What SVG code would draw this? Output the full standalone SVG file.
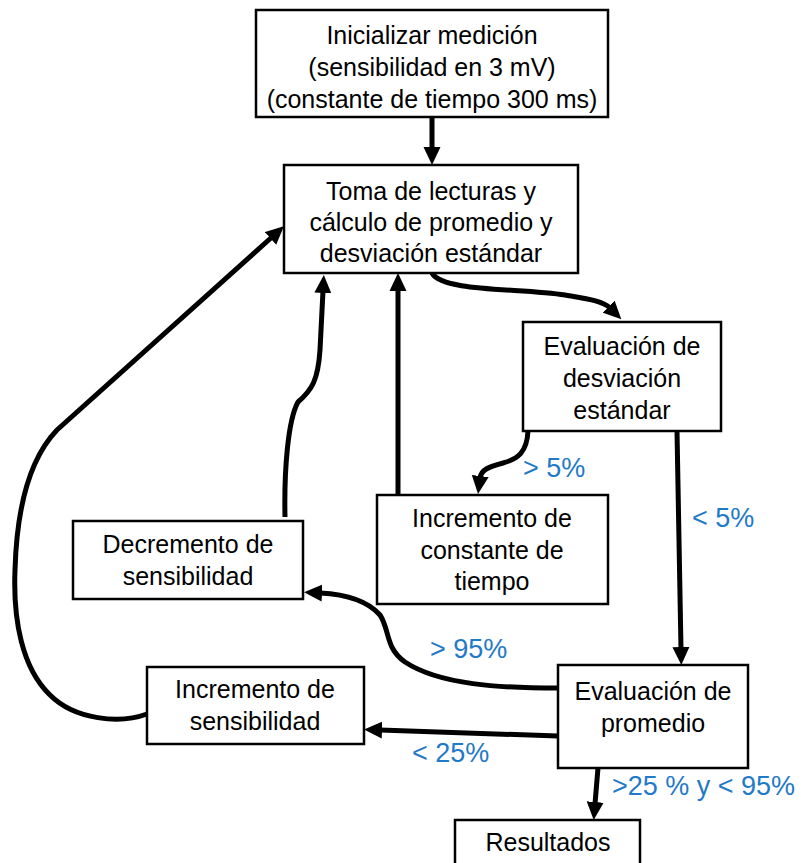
<svg xmlns="http://www.w3.org/2000/svg" width="804" height="863" viewBox="0 0 804 863">
<style>
.box{fill:#fff;stroke:#000;stroke-width:2.5}
.t{font-family:"Liberation Sans",Arial,sans-serif;font-size:25px;fill:#000;text-anchor:middle}
.lb{font-family:"Liberation Sans",Arial,sans-serif;font-size:27px;fill:#1F7AC8}
.c{fill:none;stroke:#000;stroke-width:5;marker-end:url(#ah)}
</style>
<defs>
<marker id="ah" markerUnits="userSpaceOnUse" markerWidth="20" markerHeight="18" viewBox="0 -9 20 18" refX="2" refY="0" orient="auto"><path d="M0,-8.5 L18,0 L0,8.5 z" fill="#000"/></marker>
</defs>
<rect width="804" height="863" fill="#fff"/>
<g id="connectors">
<path class="c" d="M432,117 L432,149"/>
<path class="c" d="M432,273 C442,292 520,288 565,295 C588,299 603,301 610,308"/>
<path class="c" d="M528,431 C527,452 518,459 503,463 C488,467 481,470 480,478"/>
<path class="c" d="M398,495 L398,289"/>
<path class="c" d="M285,517 C284,470 288,420 298,402 C312,390 318,380 320,350 L323,291"/>
<path class="c" d="M147,714 C120,724 75,720 50,695 C22,668 13,620 15,570 C17,500 33,455 57,430 L272,237"/>
<path class="c" d="M677,431 L681,649"/>
<path class="c" d="M558,688 C500,688 440,685 405,662 C385,648 390,630 380,615 C365,598 340,594 320,593"/>
<path class="c" d="M558,736 L380,730"/>
<path class="c" d="M598,768 L595,804"/>
</g>
<g id="n1"><rect class="box" x="256" y="10" width="352" height="107"/>
<text class="t" x="432" y="44">Inicializar medición</text>
<text class="t" x="432" y="76">(sensibilidad en 3 mV)</text>
<text class="t" x="432" y="108">(constante de tiempo 300 ms)</text></g>
<g id="n2"><rect class="box" x="284" y="165" width="294" height="108"/>
<text class="t" x="431" y="200">Toma de lecturas y</text>
<text class="t" x="431" y="231">cálculo de promedio y</text>
<text class="t" x="431" y="262">desviación estándar</text></g>
<g id="n3"><rect class="box" x="523" y="322" width="198" height="109"/>
<text class="t" x="622" y="355">Evaluación de</text>
<text class="t" x="622" y="387">desviación</text>
<text class="t" x="622" y="419">estándar</text></g>
<g id="n4"><rect class="box" x="377" y="495" width="231" height="109"/>
<text class="t" x="492" y="527">Incremento de</text>
<text class="t" x="492" y="559">constante de</text>
<text class="t" x="492" y="590">tiempo</text></g>
<g id="n5"><rect class="box" x="73" y="521" width="230" height="78"/>
<text class="t" x="188" y="553">Decremento de</text>
<text class="t" x="188" y="585">sensibilidad</text></g>
<g id="n6"><rect class="box" x="147" y="667" width="217" height="77"/>
<text class="t" x="255" y="698">Incremento de</text>
<text class="t" x="255" y="730">sensibilidad</text></g>
<g id="n7"><rect class="box" x="558" y="665" width="190" height="103"/>
<text class="t" x="653" y="700">Evaluación de</text>
<text class="t" x="653" y="732">promedio</text></g>
<g id="n8"><rect class="box" x="455" y="820" width="185" height="50"/>
<text class="t" x="548" y="851">Resultados</text></g>
<g id="labels">
<text class="lb" x="523" y="477">&gt; 5%</text>
<text class="lb" x="692" y="527">&lt; 5%</text>
<text class="lb" x="430" y="658">&gt; 95%</text>
<text class="lb" x="412" y="762">&lt; 25%</text>
<text class="lb" x="612" y="795">&gt;25 % y &lt; 95%</text>
</g>
</svg>
